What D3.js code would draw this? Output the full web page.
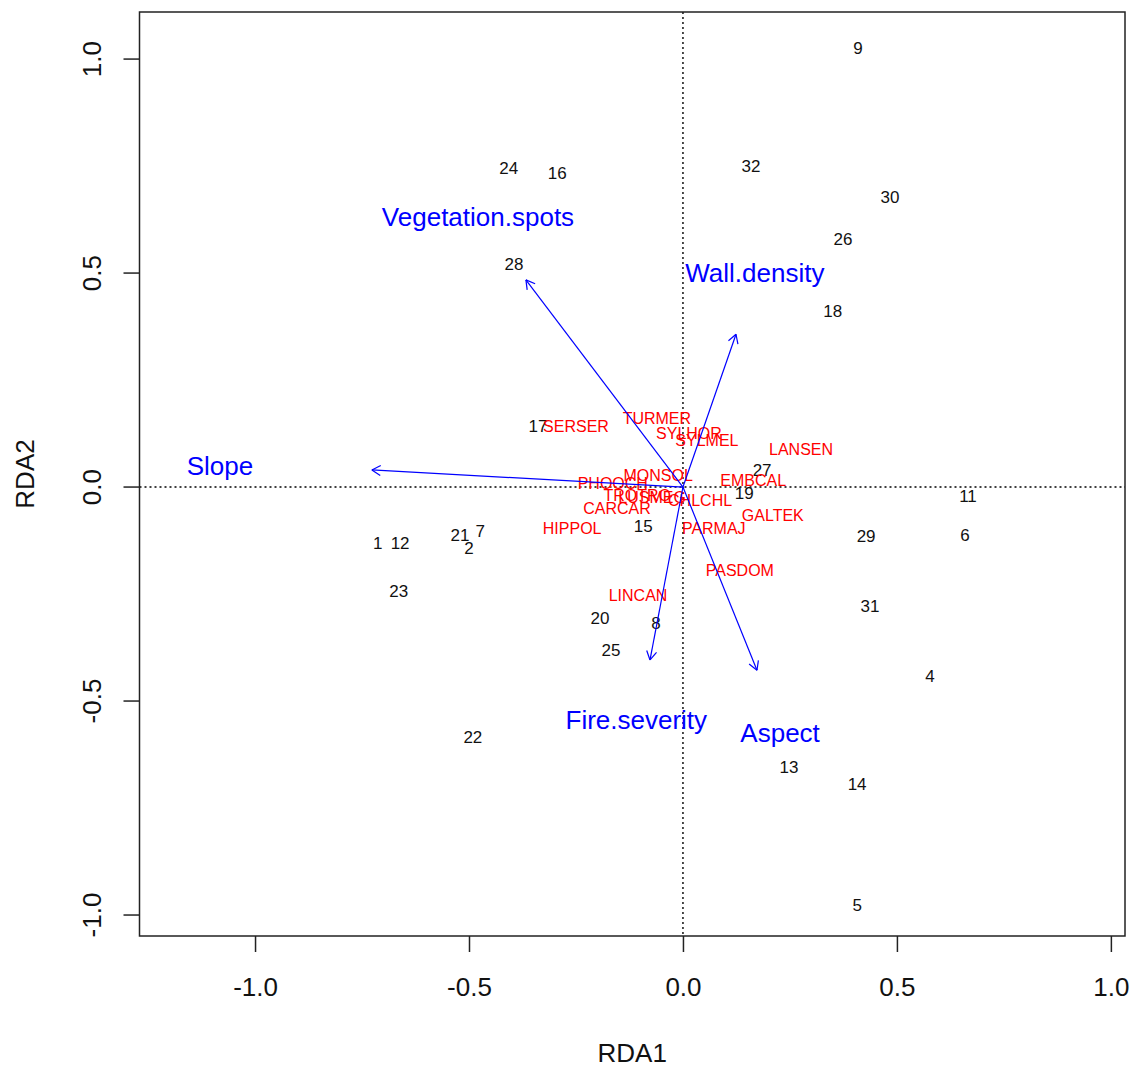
<!DOCTYPE html>
<html>
<head>
<meta charset="utf-8">
<script src="https://cdn.jsdelivr.net/npm/d3@7"></script>
<style>
body { margin: 0; background: #fff; }
svg { display: block; font-family: "Liberation Sans", Arial, sans-serif; }
</style>
</head>
<body>
<svg id="rda" width="1137" height="1068"></svg>
<script>
// RDA triplot: sites, species, env arrows

var siteIds = ["1","2","4","5","6","7","8","9","11","12","13","14","15","16","17","18",
    "19","20","21","22","23","24","25","26","27","28","29","30","31","32"];
var siteX = [-0.713,-0.500,0.577,0.407,0.659,-0.474,-0.063,0.409,0.666,-0.661,0.248,0.407,-0.093,-0.294,-0.339,0.350,
    0.143,-0.194,-0.521,-0.491,-0.664,-0.407,-0.168,0.374,0.185,-0.395,0.428,0.484,0.437,0.159];
var siteY = [-0.131,-0.143,-0.442,-0.977,-0.112,-0.103,-0.318,1.026,-0.021,-0.131,-0.654,-0.694,-0.091,0.734,0.143,0.411,
    -0.014,-0.306,-0.112,-0.584,-0.243,0.745,-0.381,0.579,0.040,0.521,-0.114,0.678,-0.278,0.750];

var spNames = ["SERSER","TURMER","SYLHOR","SYLMEL","LANSEN","MONSOL","EMBCAL","PHOOCH","TROTRO",
    "LUSMEG","CHLCHL","CARCAR","HIPPOL","PARMAJ","GALTEK","PASDOM","LINCAN"];
var spX = [-0.250,-0.061,0.014,0.056,0.276,-0.058,0.164,-0.164,-0.107,-0.072,0.040,-0.154,-0.259,0.072,0.210,0.133,-0.105];
var spY = [0.143,0.161,0.126,0.110,0.089,0.028,0.016,0.009,-0.019,-0.023,-0.030,-0.049,-0.096,-0.096,-0.065,-0.194,-0.252];

var envNames = ["Vegetation.spots","Wall.density","Slope","Fire.severity","Aspect"];
var envX = [-0.367,0.124,-0.727,-0.077,0.173];
var envY = [0.484,0.357,0.040,-0.404,-0.428];
var envLabX = [-0.479,0.168,-1.082,-0.109,0.227];
var envLabY = [0.631,0.502,0.051,-0.544,-0.575];

var xTicks = [-1.0,-0.5,0.0,0.5,1.0];
var yTicks = [-1.0,-0.5,0.0,0.5,1.0];

var svg = d3.select("#rda");
var box = {left: 139.5, right: 1125, top: 12, bottom: 936};

var x = d3.scaleLinear().domain([-1.270, 1.033]).range([box.left, box.right]);
var y = d3.scaleLinear().domain([-1.049, 1.110]).range([box.bottom, box.top]);

// R style labels, plain hyphen for minus
var fmt = function(d) { return d.toFixed(1); };

// zero lines
svg.append("line")
    .attr("x1", x(0)).attr("x2", x(0))
    .attr("y1", box.top).attr("y2", box.bottom)
    .attr("stroke", "#000").attr("stroke-width", 1.4).attr("stroke-dasharray", "2,3");
svg.append("line")
    .attr("x1", box.left).attr("x2", box.right)
    .attr("y1", y(0)).attr("y2", y(0))
    .attr("stroke", "#000").attr("stroke-width", 1.4).attr("stroke-dasharray", "2,3");

// axes
var xAxis = d3.axisBottom(x).tickValues(xTicks).tickFormat(fmt).tickSize(16).tickPadding(26);
var yAxis = d3.axisLeft(y).tickValues(yTicks).tickFormat(fmt).tickSize(16).tickPadding(0);

var gx = svg.append("g")
    .attr("transform", "translate(0," + box.bottom + ")")
    .call(xAxis);
gx.select(".domain").remove();
gx.selectAll("line").attr("stroke", "#222").attr("stroke-width", 1.5);
gx.selectAll("text")
    .attr("font-size", 26).attr("fill", "#111")
    .attr("font-family", "Liberation Sans, Arial, sans-serif");

var gy = svg.append("g")
    .attr("transform", "translate(" + box.left + ",0)")
    .call(yAxis);
gy.select(".domain").remove();
gy.selectAll("line").attr("stroke", "#222").attr("stroke-width", 1.5);
gy.selectAll("text")
    .attr("font-size", 26).attr("fill", "#111")
    .attr("font-family", "Liberation Sans, Arial, sans-serif")
    .attr("text-anchor", "middle")
    .attr("dy", null)
    .attr("x", null)
    .attr("transform", function(d) { return "translate(-39," + y(d) + ") rotate(-90)"; })
    .attr("y", 0);
gy.selectAll(".tick").attr("transform", null);
gy.selectAll(".tick line")
    .attr("y1", function(d) { return y(d); })
    .attr("y2", function(d) { return y(d); });

// frame
svg.append("rect")
    .attr("x", box.left).attr("y", box.top)
    .attr("width", box.right - box.left).attr("height", box.bottom - box.top)
    .attr("fill", "none").attr("stroke", "#222").attr("stroke-width", 1.5);

// axis titles
svg.append("text")
    .attr("x", (box.left + box.right) / 2).attr("y", 1062)
    .attr("text-anchor", "middle").attr("font-size", 26).attr("fill", "#111")
    .text("RDA1");
svg.append("text")
    .attr("transform", "translate(34," + ((box.top + box.bottom) / 2) + ") rotate(-90)")
    .attr("text-anchor", "middle").attr("font-size", 26).attr("fill", "#111")
    .text("RDA2");

// sites
svg.append("g").selectAll("text")
    .data(siteIds)
    .enter().append("text")
    .attr("x", function(d, i) { return x(siteX[i]); })
    .attr("y", function(d, i) { return y(siteY[i]); })
    .attr("dy", "0.36em")
    .attr("text-anchor", "middle").attr("font-size", 17).attr("fill", "#111")
    .text(function(d) { return d; });

// species
svg.append("g").selectAll("text")
    .data(spNames)
    .enter().append("text")
    .attr("x", function(d, i) { return x(spX[i]); })
    .attr("y", function(d, i) { return y(spY[i]); })
    .attr("dy", "0.36em")
    .attr("text-anchor", "middle").attr("font-size", 16).attr("fill", "#ff0000")
    .text(function(d) { return d; });

// env arrows
var ga = svg.append("g");
envNames.forEach(function(name, i) {
    var x0 = x(0), y0 = y(0);
    var x1 = x(envX[i]), y1 = y(envY[i]);
    ga.append("line")
        .attr("x1", x0).attr("y1", y0).attr("x2", x1).attr("y2", y1)
        .attr("stroke", "#0000ff").attr("stroke-width", 1.2);
    var ang = Math.atan2(y0 - y1, x0 - x1);
    var len = 10;
    [-Math.PI / 6, Math.PI / 6].forEach(function(da) {
        ga.append("line")
            .attr("x1", x1).attr("y1", y1)
            .attr("x2", x1 + len * Math.cos(ang + da))
            .attr("y2", y1 + len * Math.sin(ang + da))
            .attr("stroke", "#0000ff").attr("stroke-width", 1.2);
    });
    ga.append("text")
        .attr("x", x(envLabX[i])).attr("y", y(envLabY[i]))
        .attr("dy", "0.36em")
        .attr("text-anchor", "middle").attr("font-size", 26).attr("fill", "#0000ff")
        .text(name);
});
</script>
</body>
</html>
